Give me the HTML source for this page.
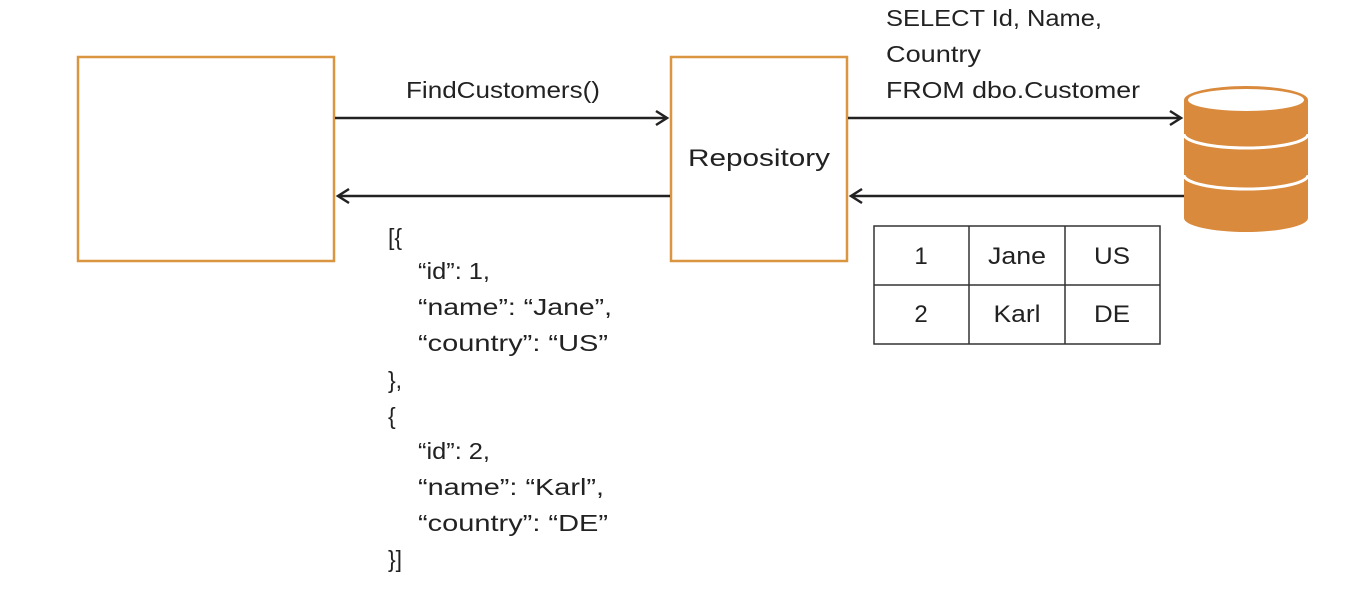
<!DOCTYPE html>
<html><head><style>
html,body{margin:0;padding:0;background:#fff;}
svg{display:block;}
text{font-family:"Liberation Sans",sans-serif;font-size:23px;fill:#222;}
</style></head><body>
<svg width="1363" height="614" viewBox="0 0 1363 614" xmlns="http://www.w3.org/2000/svg">
<rect x="0" y="0" width="1363" height="614" fill="#fff"/>
<rect x="78" y="57" width="256" height="204" fill="none" stroke="#d9953f" stroke-width="2.5"/>
<rect x="671" y="57" width="176" height="204" fill="none" stroke="#d9953f" stroke-width="2.5"/>
<text x="688" y="166" textLength="142" lengthAdjust="spacingAndGlyphs" style="font-size:24px">Repository</text>
<g stroke="#222" stroke-width="2.5" fill="none">
<line x1="335" y1="118" x2="667" y2="118"/><polyline points="656,111 667,118 656,125"/>
<line x1="338" y1="196" x2="670" y2="196"/><polyline points="349,189 338,196 349,203"/>
<line x1="848" y1="118" x2="1181" y2="118"/><polyline points="1170,111 1181,118 1170,125"/>
<line x1="851" y1="196" x2="1184" y2="196"/><polyline points="862,189 851,196 862,203"/>
</g>
<g lengthAdjust="spacingAndGlyphs">
<text x="406" y="98" textLength="194" lengthAdjust="spacingAndGlyphs">FindCustomers()</text>
<text x="886" y="26" textLength="216" lengthAdjust="spacingAndGlyphs">SELECT Id, Name,</text>
<text x="886" y="62" textLength="95" lengthAdjust="spacingAndGlyphs">Country</text>
<text x="886" y="98" textLength="254" lengthAdjust="spacingAndGlyphs">FROM dbo.Customer</text>
</g>
<!-- cylinder -->
<path d="M1184,100 L1184,218 A62,14 0 0 0 1308,218 L1308,100 Z" fill="#d98a3c"/>
<ellipse cx="1246" cy="100" rx="62" ry="14" fill="#d98a3c"/>
<ellipse cx="1246" cy="100" rx="58" ry="11" fill="#fff"/>
<path d="M1184,134 A62,14 0 0 0 1308,134" fill="none" stroke="#fff" stroke-width="3"/>
<path d="M1184,175 A62,14 0 0 0 1308,175" fill="none" stroke="#fff" stroke-width="3"/>
<!-- table -->
<g stroke="#333" stroke-width="1.5" fill="none">
<rect x="874" y="226" width="286" height="118"/>
<line x1="874" y1="285" x2="1160" y2="285"/>
<line x1="969" y1="226" x2="969" y2="344"/>
<line x1="1065" y1="226" x2="1065" y2="344"/>
</g>
<g text-anchor="middle" style="font-size:24px">
<text x="921" y="264" style="font-size:24px">1</text><text x="1017" y="264" textLength="58" lengthAdjust="spacingAndGlyphs" style="font-size:24px">Jane</text><text x="1112" y="264" textLength="36" lengthAdjust="spacingAndGlyphs" style="font-size:24px">US</text>
<text x="921" y="322" style="font-size:24px">2</text><text x="1017" y="322" textLength="47" lengthAdjust="spacingAndGlyphs" style="font-size:24px">Karl</text><text x="1112" y="322" textLength="36" lengthAdjust="spacingAndGlyphs" style="font-size:24px">DE</text>
</g>
<text x="388" y="245">[{</text>
<text x="418" y="279" textLength="72" lengthAdjust="spacingAndGlyphs">“id”: 1,</text>
<text x="418" y="315" textLength="194" lengthAdjust="spacingAndGlyphs">“name”: “Jane”,</text>
<text x="418" y="351" textLength="190" lengthAdjust="spacingAndGlyphs">“country”: “US”</text>
<text x="388" y="388">},</text>
<text x="388" y="424">{</text>
<text x="418" y="459" textLength="72" lengthAdjust="spacingAndGlyphs">“id”: 2,</text>
<text x="418" y="495" textLength="186" lengthAdjust="spacingAndGlyphs">“name”: “Karl”,</text>
<text x="418" y="531" textLength="190" lengthAdjust="spacingAndGlyphs">“country”: “DE”</text>
<text x="388" y="567">}]</text>
</svg>
</body></html>
